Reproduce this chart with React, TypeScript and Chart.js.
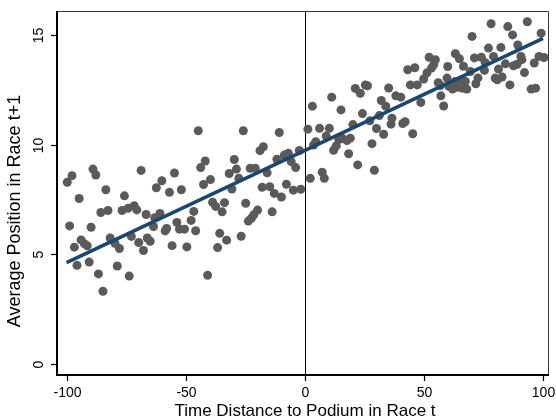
import React, { useEffect, useRef } from "react";
import { Chart, registerables } from "chart.js";

Chart.register(...registerables);

// ---- Data ----
const timeDistance: number[] = [
  -99.7, -98.7, -97.7, -96.7, -95.6, -94.7, -93.9, -92.5, -91.3, -90.5,
  -89.7, -88.9, -87.7, -86.6, -85.6, -84.7, -83.5, -82.6, -81.7, -79.7,
  -78.7, -77.8, -76.7, -75.7, -74.2, -73.7, -72.8, -71.6, -70.5, -69.7,
  -68.7, -67.7, -66.6, -66.1, -64.9, -63.5, -63.0, -62.3, -60.8, -60.0,
  -58.6, -58.0, -56.8, -55.7, -54.7, -53.7, -52.6, -51.8, -50.5, -49.5,
  -47.7, -46.6, -45.8, -44.7, -43.7, -42.5, -41.8, -40.8, -39.6, -38.7,
  -37.4, -36.6, -35.7, -34.7, -33.7, -32.8, -31.7, -30.6, -29.6, -28.7,
  -27.7, -26.7, -25.8, -24.8, -23.7, -22.9, -22.4, -21.4, -20.8, -19.8,
  -18.8, -17.9, -17.4, -15.8, -14.7, -13.7, -12.8, -11.7, -10.7, -9.8,
  -8.6, -7.7, -6.9, -5.7, -4.8, -3.8, -2.3, -1.7,
  1.3, 2.3, 3.2, 3.7, 4.6, 6.2, 7.3, 8.2, 9.0, 10.3,
  11.3, 12.1, 13.2, 14.3, 15.2, 15.8, 17.7, 18.4, 19.1, 20.2,
  21.2, 22.2, 23.3, 24.2, 25.4, 26.3, 27.3, 28.2, 29.2, 30.1,
  31.3, 32.1, 33.1, 34.0, 35.2, 36.2, 36.6, 38.2, 40.3, 41.1,
  42.1, 43.2, 44.3, 45.3, 46.2, 47.2, 48.7, 49.9, 51.3, 52.2,
  53.2, 54.1, 54.8, 56.0, 56.9, 57.1, 58.3, 59.7, 60.0, 60.5,
  62.0, 63.2, 63.2, 64.0, 64.9, 65.9, 66.1, 66.6, 67.4, 68.0,
  69.5, 70.2, 71.2, 71.8, 72.7, 74.1, 75.4, 75.7, 77.1, 78.2,
  79.2, 79.9, 80.8, 81.3, 82.3, 82.8, 84.2, 85.2, 86.1, 87.2,
  87.6, 89.1, 89.4, 90.7, 91.1, 92.2, 93.4, 95.0, 96.3, 96.9,
  98.3, 99.2, 100.4,
];

const avgPosition: number[] = [
  8.29, 6.30, 8.59, 5.33, 4.50, 7.55, 5.66, 5.48, 5.39, 4.65,
  6.24, 8.89, 8.62, 4.11, 6.91, 3.32, 7.95, 7.00, 5.75, 5.51,
  4.47, 5.27, 7.00, 7.67, 7.10, 4.01, 5.82, 7.22, 7.03, 5.54,
  8.83, 5.18, 6.82, 5.75, 5.60, 6.27, 6.67, 8.04, 6.87, 8.36,
  6.07, 6.18, 7.83, 5.40, 8.71, 6.46, 6.15, 7.95, 6.15, 5.34,
  6.55, 6.96, 6.08, 10.64, 8.96, 8.19, 9.26, 4.05, 8.41, 7.38,
  7.19, 5.31, 5.96, 6.94, 7.36, 5.65, 8.69, 7.98, 9.33, 8.89,
  8.47, 5.83, 10.64, 7.33, 6.52, 8.93, 6.65, 6.81, 8.93, 7.02,
  9.73, 8.06, 9.91, 8.72, 8.09, 6.94, 7.78, 9.34, 10.56, 7.62,
  9.53, 8.20, 9.61, 9.23, 7.93, 8.96, 9.74, 7.97,
  10.71, 8.47, 11.76, 9.99, 10.14, 10.75, 8.75, 8.47, 10.40, 10.75,
  12.17, 9.75, 9.95, 10.24, 11.59, 10.29, 10.19, 9.59, 10.30, 10.92,
  12.57, 9.08, 12.35, 11.42, 12.72, 12.69, 11.09, 10.05, 8.84, 10.74,
  11.33, 12.02, 10.48, 11.76, 12.59, 10.94, 11.21, 12.23, 12.17, 10.97,
  11.05, 13.42, 12.73, 10.50, 13.51, 12.73, 11.93, 13.00, 13.28, 13.99,
  13.50, 13.65, 13.88, 12.83, 12.70, 12.23, 11.77, 13.04, 13.57, 12.66,
  12.54, 14.15, 12.89, 12.62, 13.92, 12.96, 12.58, 13.58, 12.89, 12.54,
  13.34, 14.94, 13.96, 12.78, 13.05, 13.99, 13.39, 13.75, 14.41, 15.52,
  14.03, 13.04, 12.96, 13.45, 14.44, 13.09, 13.69, 15.39, 12.73, 15.01,
  13.60, 13.67, 14.55, 14.03, 13.88, 13.29, 15.61, 12.54, 13.73, 12.58,
  14.03, 15.09, 13.98,
];

// Fitted line end points
const fitX: number[] = [-100, 100];
const fitY: number[] = [4.63, 14.85];

// Reference line
const refLineX = 0;

// Axes
const xTicks: number[] = [-100, -50, 0, 50, 100];
const yTicks: number[] = [0, 5, 10, 15];
const xRange: number[] = [-104, 102.5];
const yRange: number[] = [-0.5, 16.1];

const xTitle = "Time Distance to Podium in Race t";
const yTitle = "Average Position in Race t+1";

const FONT = "'Liberation Sans', Arial, sans-serif";

const stataPlugin = {
  id: "stataFrame",
  beforeDatasetsDraw(chart: any) {
    const { ctx, chartArea: a, scales } = chart;
    const px = Math.round(scales.x.getPixelForValue(refLineX)) + 0.5;
    ctx.save();
    ctx.strokeStyle = "#000";
    ctx.lineWidth = 1;
    ctx.beginPath();
    ctx.moveTo(px, a.top);
    ctx.lineTo(px, a.bottom);
    ctx.stroke();
    ctx.restore();
  },
  afterDraw(chart: any) {
    const { ctx, chartArea: a, scales } = chart;
    const xs = scales.x;
    const ys = scales.y;
    ctx.save();
    // top & right frame
    ctx.strokeStyle = "#3a3a3a";
    ctx.lineWidth = 1;
    ctx.beginPath();
    ctx.moveTo(a.left, a.top + 0.5);
    ctx.lineTo(a.right - 0.5, a.top + 0.5);
    ctx.lineTo(a.right - 0.5, a.bottom);
    ctx.stroke();
    // left & bottom axes
    ctx.strokeStyle = "#000";
    ctx.lineWidth = 2;
    ctx.beginPath();
    ctx.moveTo(a.left, a.top);
    ctx.lineTo(a.left, a.bottom);
    ctx.lineTo(a.right, a.bottom);
    ctx.stroke();

    // x ticks
    ctx.lineWidth = 1.2;
    ctx.fillStyle = "#000";
    ctx.font = `14px ${FONT}`;
    ctx.textAlign = "center";
    ctx.textBaseline = "alphabetic";
    xTicks.forEach((v) => {
      const p = Math.round(xs.getPixelForValue(v)) + 0.5;
      ctx.beginPath();
      ctx.moveTo(p, a.bottom);
      ctx.lineTo(p, a.bottom + 6);
      ctx.stroke();
      ctx.fillText(String(v), p, a.bottom + 22);
    });

    // y ticks
    yTicks.forEach((v) => {
      const p = Math.round(ys.getPixelForValue(v)) + 0.5;
      ctx.beginPath();
      ctx.moveTo(a.left, p);
      ctx.lineTo(a.left - 6, p);
      ctx.stroke();
      ctx.save();
      ctx.translate(a.left - 14, p);
      ctx.rotate(-Math.PI / 2);
      ctx.fillText(String(v), 0, 0);
      ctx.restore();
    });

    // titles
    ctx.font = `17px ${FONT}`;
    ctx.fillText(xTitle, (a.left + a.right) / 2 + 2, 416);
    ctx.font = `18px ${FONT}`;
    ctx.save();
    ctx.translate(20, 211);
    ctx.rotate(-Math.PI / 2);
    ctx.fillText(yTitle, 0, 0);
    ctx.restore();
    ctx.restore();
  },
};

export default function App() {
  const ref = useRef<HTMLCanvasElement | null>(null);

  useEffect(() => {
    if (!ref.current) return;
    const scatterData = timeDistance.map((x, i) => ({ x, y: avgPosition[i] }));
    const fitData = fitX.map((x, i) => ({ x, y: fitY[i] }));
    const chart = new Chart(ref.current, {
      type: "scatter",
      data: {
        datasets: [
          {
            type: "line",
            label: "Fitted values",
            data: fitData,
            borderColor: "#1a476f",
            borderWidth: 3.6,
            pointRadius: 0,
            fill: false,
            order: 0,
          } as any,
          {
            label: "Average position",
            data: scatterData,
            backgroundColor: "#5a5a5a",
            borderWidth: 0,
            pointRadius: 4.5,
            order: 1,
          },
        ],
      },
      options: {
        responsive: false,
        animation: false,
        events: [],
        layout: { padding: { left: 57, top: 11, right: 7, bottom: 43 } },
        plugins: {
          legend: { display: false },
          tooltip: { enabled: false },
        },
        scales: {
          x: { type: "linear", display: false, min: xRange[0], max: xRange[1] },
          y: { type: "linear", display: false, min: yRange[0], max: yRange[1] },
        },
      },
      plugins: [stataPlugin],
    });
    return () => chart.destroy();
  }, []);

  return (
    <div style={{ position: "fixed", left: 0, top: 0, width: 556, height: 418, background: "#fff" }}>
      <canvas ref={ref} width={556} height={418} />
    </div>
  );
}
